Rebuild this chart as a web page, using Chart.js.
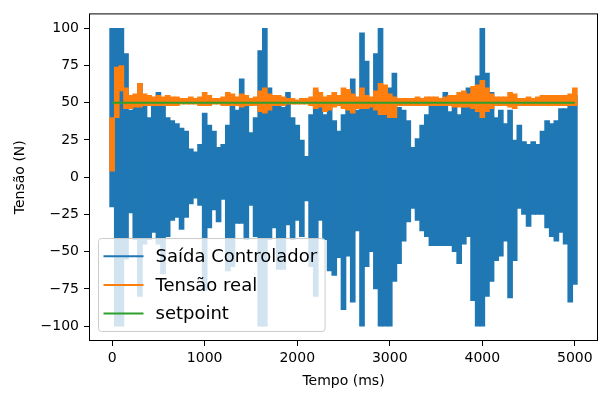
<!DOCTYPE html>
<html>
<head>
<meta charset="utf-8">
<title>Tensão x Tempo</title>
<script src="https://cdn.jsdelivr.net/npm/chart.js@4.4.0/dist/chart.umd.min.js"></script>
<style>
  html, body { margin: 0; padding: 0; background: #fff; }
  #wrap { width: 598px; height: 394px; }
</style>
</head>
<body>
<div id="wrap"><canvas id="grafico" width="598" height="394"></canvas></div>
<script>
// Instante de cada janela de amostras (ms)
const tempo = [
    0, 50, 100, 150, 200, 250, 300, 350, 400, 450,
    500, 550, 600, 650, 700, 750, 800, 850, 900, 950,
    1000, 1050, 1100, 1150, 1200, 1250, 1300, 1350, 1400, 1450,
    1500, 1550, 1600, 1650, 1700, 1750, 1800, 1850, 1900, 1950,
    2000, 2050, 2100, 2150, 2200, 2250, 2300, 2350, 2400, 2450,
    2500, 2550, 2600, 2650, 2700, 2750, 2800, 2850, 2900, 2950,
    3000, 3050, 3100, 3150, 3200, 3250, 3300, 3350, 3400, 3450,
    3500, 3550, 3600, 3650, 3700, 3750, 3800, 3850, 3900, 3950,
    4000, 4050, 4100, 4150, 4200, 4250, 4300, 4350, 4400, 4450,
    4500, 4550, 4600, 4650, 4700, 4750, 4800, 4850, 4900, 4950,
    5000
];

// Saída do controlador: máximo e mínimo em cada janela
const saidaMax = [
    100, 100, 100, 83, 45, 52, 63, 52, 40, 50,
    57, 48, 40, 38, 36, 33, 31, 19, 17, 22,
    43, 35, 31, 20, 22, 35, 50, 45, 66, 50,
    30, 40, 85, 100, 60, 52, 48, 47, 57, 40,
    35, 25, 14, 42, 58, 50, 42, 50, 38, 31,
    42, 58, 66, 45, 97, 78, 47, 83, 100, 58,
    60, 70, 47, 45, 38, 20, 26, 35, 42, 48,
    48, 50, 57, 44, 48, 42, 48, 60, 55, 68,
    100, 70, 57, 40, 45, 36, 45, 25, 35, 24,
    22, 24, 22, 31, 38, 36, 38, 46, 46, 55,
    55
];
const saidaMin = [
    -20, -100, -100, -55, -24, -42, -80, -45, -42, -37,
    -45, -65, -40, -29, -27, -35, -27, -18, -14, -19,
    -76, -34, -22, -30, -15, -63, -60, -31, -31, -42,
    -19, -40, -100, -100, -42, -34, -62, -62, -32, -42,
    -29, -40, -16, -60, -80, -29, -42, -63, -66, -54,
    -89, -53, -84, -36, -100, -60, -50, -75, -100, -100,
    -100, -70, -58, -43, -30, -21, -29, -36, -40, -46,
    -46, -46, -46, -46, -50, -58, -45, -40, -83, -100,
    -100, -80, -70, -56, -53, -43, -81, -56, -21, -25,
    -33, -25, -25, -25, -34, -40, -43, -37, -45, -84,
    -72
];

// Tensão real medida: mínimo e máximo em cada janela
const tensaoMin = [
    4, 40, 58, 46, 46, 47, 47, 48, 48, 48,
    48, 48, 48, 48, 48, 49, 49, 49, 49, 48,
    48, 48, 49, 49, 48, 48, 48, 48, 47, 48,
    48, 48, 44, 43, 45, 48, 48, 48, 49, 49,
    49, 49, 49, 48, 46, 47, 44, 45, 47, 48,
    46, 45, 43, 46, 46, 46, 47, 45, 42, 42,
    40, 40, 48, 48, 48, 48, 48, 48, 48, 48,
    48, 48, 48, 48, 47, 47, 47, 47, 46, 44,
    40, 44, 46, 48, 48, 48, 47, 46, 48, 48,
    48, 48, 48, 48, 48, 48, 48, 48, 48, 48,
    48
];
const tensaoMax = [
    40, 74, 75, 60, 55, 56, 63, 56, 55, 54,
    55, 54, 55, 54, 54, 53, 53, 54, 53, 54,
    57, 55, 53, 53, 54, 57, 56, 54, 56, 55,
    53, 54, 58, 60, 56, 55, 55, 54, 53, 53,
    52, 53, 53, 54, 60, 57, 54, 55, 57, 55,
    60, 59, 56, 54, 60, 55, 54, 58, 63, 62,
    56, 54, 53, 53, 53, 53, 54, 53, 54, 54,
    54, 53, 54, 55, 55, 57, 58, 56, 61, 62,
    65, 60, 56, 54, 54, 54, 57, 56, 53, 53,
    54, 53, 54, 55, 55, 55, 55, 55, 55, 56,
    60
];

// Setpoint
const setpointT = [0, 5000];
const setpointV = [50, 50];

const ticksX = [0, 1000, 2000, 3000, 4000, 5000];
const ticksY = [-100, -75, -50, -25, 0, 25, 50, 75, 100];
const legendas = ['Saída Controlador', 'Tensão real', 'setpoint'];
const cores = ['#1f77b4', '#ff7f0e', '#2ca02c'];

Chart.defaults.font.family = '"DejaVu Sans", sans-serif';
Chart.defaults.color = '#000';

// Moldura dos eixos + legenda com fundo semi-transparente
const molduraLegenda = {
    id: 'molduraLegenda',
    afterDatasetsDraw(chart) {
        const { ctx, chartArea } = chart;
        ctx.save();
        ctx.strokeStyle = '#000';
        ctx.lineWidth = 1;
        ctx.strokeRect(chartArea.left + 0.5, chartArea.top + 0.5, chartArea.width - 1, chartArea.height - 1);

        ctx.font = '18px "DejaVu Sans"';
        const largura = Math.max(...legendas.map(t => ctx.measureText(t).width));
        const x0 = chartArea.left + 9.5;
        const h = 93;
        const y0 = chartArea.bottom - 9.5 - h;
        const w = 57 + largura + 8;
        ctx.beginPath();
        ctx.roundRect(x0, y0, w, h, 3);
        ctx.fillStyle = 'rgba(255,255,255,0.8)';
        ctx.fill();
        ctx.strokeStyle = '#cccccc';
        ctx.lineWidth = 1;
        ctx.stroke();

        legendas.forEach((txt, i) => {
            const y = y0 + 17.7 + i * 28.7;
            ctx.strokeStyle = cores[i];
            ctx.lineWidth = 2;
            ctx.beginPath();
            ctx.moveTo(x0 + 5, y);
            ctx.lineTo(x0 + 45, y);
            ctx.stroke();
            ctx.fillStyle = '#000';
            ctx.textBaseline = 'middle';
            ctx.textAlign = 'left';
            ctx.fillText(txt, x0 + 57, y + 1);
        });
        ctx.restore();
    }
};

const menos = v => (v < 0 ? '\u2212' + (-v) : String(v));

const ctx = document.getElementById('grafico').getContext('2d');
new Chart(ctx, {
    type: 'bar',
    data: {
        datasets: [
            {
                type: 'line',
                label: legendas[2],
                data: setpointT.map((t, i) => ({ x: t, y: setpointV[i] })),
                borderColor: cores[2],
                borderWidth: 2,
                pointRadius: 0,
                order: 1
            },
            {
                label: legendas[1],
                data: tempo.map((t, i) => ({ x: t, y: [tensaoMin[i], tensaoMax[i]] })),
                backgroundColor: cores[1],
                borderWidth: 0,
                barThickness: 5,
                grouped: false,
                order: 2
            },
            {
                label: legendas[0],
                data: tempo.map((t, i) => ({ x: t, y: [saidaMin[i], saidaMax[i]] })),
                backgroundColor: cores[0],
                borderWidth: 0,
                barThickness: 5,
                grouped: false,
                order: 3
            }
        ]
    },
    options: {
        responsive: false,
        animation: false,
        devicePixelRatio: 1,
        layout: { padding: { top: 9, right: 0, left: 0, bottom: 0 } },
        plugins: {
            legend: { display: false },
            tooltip: { enabled: false }
        },
        scales: {
            x: {
                type: 'linear',
                min: -250,
                max: 5250,
                offset: false,
                afterBuildTicks: s => { s.ticks = ticksX.map(v => ({ value: v })); },
                afterFit: s => { s.height = 53; },
                grid: { drawOnChartArea: false, drawTicks: true, tickLength: 5, tickColor: '#000', offset: false },
                border: { display: false },
                ticks: { font: { size: 14 }, color: '#000', padding: 4, maxRotation: 0, autoSkip: false, callback: v => menos(v) },
                title: { display: true, text: 'Tempo (ms)', font: { size: 14 }, color: '#000', padding: { top: 4, bottom: 4 } }
            },
            y: {
                min: -110,
                max: 110,
                afterBuildTicks: s => { s.ticks = ticksY.map(v => ({ value: v })); },
                afterFit: s => { s.width = 89; },
                grid: { drawOnChartArea: false, drawTicks: true, tickLength: 5, tickColor: '#000' },
                border: { display: false },
                ticks: { font: { size: 14 }, color: '#000', padding: 5, autoSkip: false, callback: v => menos(v) },
                title: { display: true, text: 'Tensão (N)', font: { size: 14 }, color: '#000', padding: { top: 12, bottom: 4 } }
            }
        }
    },
    plugins: [molduraLegenda]
});
</script>
</body>
</html>
